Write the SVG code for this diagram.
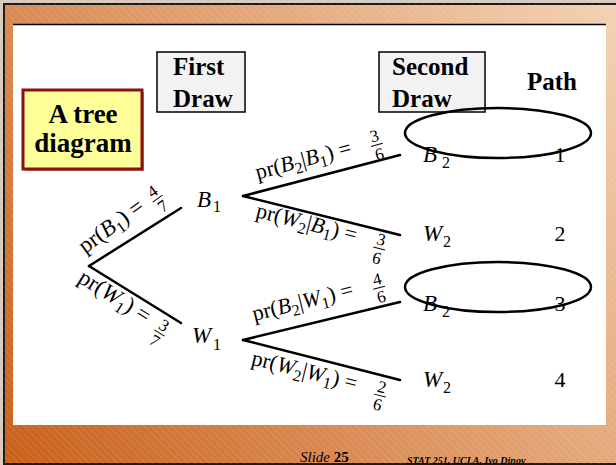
<svg xmlns="http://www.w3.org/2000/svg" width="616" height="465" viewBox="0 0 616 465">
<defs>
<linearGradient id="bg" gradientUnits="userSpaceOnUse" x1="0" y1="465" x2="616" y2="0">
<stop offset="0" stop-color="#c85f18"/>
<stop offset="0.5" stop-color="#df9a68"/>
<stop offset="1" stop-color="#f3d2b3"/>
</linearGradient>
<pattern id="stripes" patternUnits="userSpaceOnUse" width="5" height="5" patternTransform="rotate(-45)">
<line x1="0" y1="0" x2="0" y2="5" stroke="#fff" stroke-width="1" stroke-opacity="0.22"/>
</pattern>
</defs>
<style>
.t{font-family:"Liberation Serif","Times New Roman",serif;fill:#000}
.b{font-weight:bold}
.i{font-style:italic}
.edge{stroke:#000;stroke-width:2.5;fill:none;stroke-linecap:round}
.box{fill:#f2f2f2;stroke:#000;stroke-width:1.5}
.hd{font-size:25px;font-weight:bold}
.lbl{font-size:22px}
.lbl1{font-size:23px}
.frac{font-size:17px;text-anchor:middle}
.bar{stroke:#000;stroke-width:1}
.node{font-size:23px}
.sub{font-size:16px}
.pn{font-size:22px;text-anchor:middle}
.ring{fill:none;stroke:#000;stroke-width:2.5}
</style>

<rect width="616" height="465" fill="#d9cbbd"/>
<rect x="4" y="4" width="620" height="460" fill="url(#bg)" stroke="#1a1a1a" stroke-width="2"/>
<rect x="4" y="4" width="620" height="460" fill="url(#stripes)"/>
<rect x="13" y="25" width="593" height="400" fill="#fff"/>
<line x1="13" y1="24.5" x2="606" y2="24.5" stroke="#000" stroke-width="1.5"/>

<g id="title">
<rect x="25" y="92" width="119" height="79" fill="#7a1a1a" opacity="0.5"/>
<rect x="23" y="90" width="119" height="79" fill="#ffff99" stroke="#8b1010" stroke-width="3"/>
<text class="t b" font-size="27" x="83" y="123" text-anchor="middle">A tree</text>
<text class="t b" font-size="27" x="83" y="152" text-anchor="middle">diagram</text>
</g>

<g id="first-draw">
<rect class="box" x="157" y="52" width="88" height="60"/>
<text class="t hd" x="173" y="75">First</text>
<text class="t hd" x="173" y="107">Draw</text>
</g>

<g id="second-draw">
<rect class="box" x="379" y="52" width="106" height="60"/>
<text class="t hd" x="392" y="75">Second</text>
<text class="t hd" x="392" y="107">Draw</text>
</g>

<g id="path-header">
<text class="t hd" x="527" y="90">Path</text>
</g>

<g id="connectors">
<line class="edge" x1="89" y1="266" x2="181" y2="208"/>
<line class="edge" x1="89" y1="266" x2="181" y2="323"/>
<line class="edge" x1="243" y1="196" x2="400" y2="155"/>
<line class="edge" x1="243" y1="196" x2="400" y2="235"/>
<line class="edge" x1="243" y1="340" x2="400" y2="302"/>
<line class="edge" x1="243" y1="340" x2="400" y2="380"/>
</g>

<g id="label-b1" transform="translate(145.8,209.7) rotate(-36)">
<text class="t lbl1" text-anchor="end">pr(<tspan class="i">B</tspan><tspan class="sub" dy="5">1</tspan><tspan dy="-5">) =</tspan></text>
<text class="t frac" x="16" y="-5.2">4</text>
<line class="bar" x1="10" y1="-2" x2="22" y2="-2"/>
<text class="t frac" x="16" y="12.8">7</text>
</g>

<g id="label-w1" transform="translate(145,324) rotate(32)">
<text class="t lbl1" text-anchor="end">pr(<tspan class="i">W</tspan><tspan class="sub" dy="5">1</tspan><tspan dy="-5">) =</tspan></text>
<text class="t frac" x="17" y="-3.2">3</text>
<line class="bar" x1="11" y1="0" x2="23" y2="0"/>
<text class="t frac" x="17" y="14.8">7</text>
</g>

<g id="label-b2b1" transform="translate(352.4,154) rotate(-15)">
<text class="t lbl" text-anchor="end">pr(<tspan class="i">B</tspan><tspan class="sub" dy="5">2</tspan><tspan dy="-5">|</tspan><tspan class="i">B</tspan><tspan class="sub" dy="5">1</tspan><tspan dy="-5">) =</tspan></text>
<text class="t frac" x="26" y="-6.2">3</text>
<line class="bar" x1="20" y1="-2.5" x2="32" y2="-2.5"/>
<text class="t frac" x="26" y="12.8">6</text>
</g>

<g id="label-w2b1" transform="translate(355,242) rotate(14)">
<text class="t lbl" text-anchor="end">pr(<tspan class="i">W</tspan><tspan class="sub" dy="5">2</tspan><tspan dy="-5">|</tspan><tspan class="i">B</tspan><tspan class="sub" dy="5">1</tspan><tspan dy="-5">) =</tspan></text>
<text class="t frac" x="25" y="-3">3</text>
<line class="bar" x1="19" y1="0.5" x2="31" y2="0.5"/>
<text class="t frac" x="25" y="16">6</text>
</g>

<g id="label-b2w1" transform="translate(354.3,296) rotate(-14)">
<text class="t lbl" text-anchor="end">pr(<tspan class="i">B</tspan><tspan class="sub" dy="5">2</tspan><tspan dy="-5">|</tspan><tspan class="i">W</tspan><tspan class="sub" dy="5">1</tspan><tspan dy="-5">) =</tspan></text>
<text class="t frac" x="26" y="-5.2">4</text>
<line class="bar" x1="20" y1="-2" x2="32" y2="-2"/>
<text class="t frac" x="26" y="12.8">6</text>
</g>

<g id="label-w2w1" transform="translate(355.3,390.5) rotate(14)">
<text class="t lbl" text-anchor="end">pr(<tspan class="i">W</tspan><tspan class="sub" dy="5">2</tspan><tspan dy="-5">|</tspan><tspan class="i">W</tspan><tspan class="sub" dy="5">1</tspan><tspan dy="-5">) =</tspan></text>
<text class="t frac" x="25" y="-4.2">2</text>
<line class="bar" x1="19" y1="-1" x2="31" y2="-1"/>
<text class="t frac" x="25" y="13.8">6</text>
</g>

<g id="node-b1"><text class="t node i" x="197" y="207">B</text><text class="t sub" x="213" y="212">1</text></g>
<g id="node-w1"><text class="t node i" x="192" y="343">W</text><text class="t sub" x="213" y="350">1</text></g>
<g id="node-b2-1"><text class="t node i" x="423" y="162">B</text><text class="t sub" x="442" y="168">2</text></g>
<g id="node-w2-2"><text class="t node i" x="423" y="241">W</text><text class="t sub" x="443" y="247">2</text></g>
<g id="node-b2-3"><text class="t node i" x="423" y="311">B</text><text class="t sub" x="442" y="317">2</text></g>
<g id="node-w2-4"><text class="t node i" x="423" y="387">W</text><text class="t sub" x="443" y="393">2</text></g>

<g id="path-1"><text class="t pn" x="560" y="162">1</text></g>
<g id="path-2"><text class="t pn" x="560" y="241">2</text></g>
<g id="path-3"><text class="t pn" x="560" y="311">3</text></g>
<g id="path-4"><text class="t pn" x="560" y="387">4</text></g>

<g id="ring-1"><ellipse class="ring" cx="498" cy="133" rx="93" ry="25"/></g>
<g id="ring-2"><ellipse class="ring" cx="498" cy="287" rx="93" ry="25"/></g>

<g id="footer">
<text class="t" x="300" y="462" font-size="15" fill="#1a1a1a"><tspan class="i">Slide </tspan><tspan class="b">25</tspan></text>
<text class="t b i" x="407" y="464" font-size="10" fill="#1a1a1a">STAT 251, UCLA, Ivo Dinov</text>
</g>
</svg>
